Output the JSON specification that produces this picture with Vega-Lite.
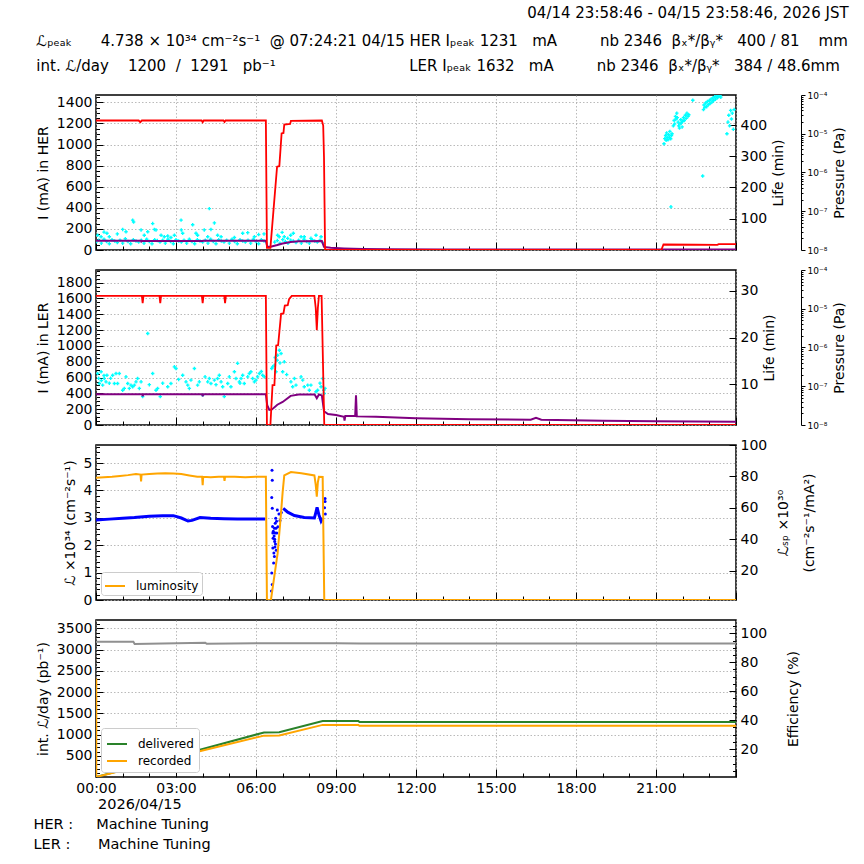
{
"$schema":"https://vega.github.io/schema/vega-lite/v6.json",
"padding":{"left":32,"top":6,"right":8,"bottom":6},
"background":"white",
"title":{"text":"04/14 23:58:46 - 04/15 23:58:46, 2026 JST","anchor":"end","fontSize":15,"fontWeight":"normal","font":"DejaVu Sans","color":"black","offset":12},
"spacing":20,
"bounds":"flush",
"resolve":{"scale":{"color":"independent"},"legend":{"color":"independent"}},
"config":{
 "font":"DejaVu Sans",
 "view":{"stroke":"black","strokeWidth":1.5},
 "axis":{"labelFont":"DejaVu Sans","labelFontSize":14,"titleFont":"DejaVu Sans","titleFontSize":14,"titleFontWeight":"normal","labelColor":"black","titleColor":"black","tickColor":"black","tickWidth":1,"domain":false,"grid":false,"gridColor":"#a8a8a8","gridDash":[1.5,2],"gridWidth":0.8,"labelOverlap":false,"labelBound":false,"labelFlush":false},
 "legend":{"labelFont":"DejaVu Sans","labelFontSize":12,"labelColor":"black"},
 "title":{"font":"DejaVu Sans","fontWeight":"normal","color":"black"}
},
"datasets":{
"her":[{"t":0,"v":1228},{"t":1.6,"v":1228},{"t":1.66,"v":1212},{"t":1.72,"v":1228},{"t":3.96,"v":1228},{"t":4.0,"v":1212},{"t":4.04,"v":1228},{"t":4.78,"v":1228},{"t":4.82,"v":1214},{"t":4.86,"v":1228},{"t":6.37,"v":1228},{"t":6.41,"v":20},{"t":6.54,"v":20},{"t":6.79,"v":790},{"t":6.875,"v":795},{"t":6.96,"v":1105},{"t":7.03,"v":1110},{"t":7.06,"v":1190},{"t":7.28,"v":1195},{"t":7.31,"v":1225},{"t":8.47,"v":1228},{"t":8.52,"v":1180},{"t":8.55,"v":880},{"t":8.59,"v":5},{"t":8.7,"v":0},{"t":21.2,"v":0},{"t":21.28,"v":52},{"t":22.5,"v":50},{"t":23.3,"v":49},{"t":23.35,"v":55},{"t":24,"v":55}],
"herLife":[{"t":0,"v":29},{"t":1.69,"v":29},{"t":1.7,"v":27},{"t":1.72,"v":29},{"t":4.0,"v":28},{"t":4.02,"v":29},{"t":6.37,"v":29},{"t":6.42,"v":10},{"t":6.55,"v":9.5},{"t":6.8,"v":15},{"t":7.0,"v":20},{"t":7.3,"v":25},{"t":7.6,"v":27.5},{"t":8.47,"v":28},{"t":8.55,"v":9},{"t":8.8,"v":6},{"t":9.3,"v":4},{"t":10,"v":2.5},{"t":11,"v":1.5},{"t":13,"v":1},{"t":24,"v":1}],
"herP":[{"t":0.0,"v":1.6e-8},{"t":0.1,"v":1.8e-8},{"t":0.2,"v":1.5e-8},{"t":0.3,"v":1.9e-8},{"t":0.4,"v":1.65e-8},{"t":0.5,"v":1.45e-8},{"t":0.6,"v":1.85e-8},{"t":0.7,"v":1.7e-8},{"t":0.8,"v":1.55e-8},{"t":0.9,"v":1.8e-8},{"t":1.0,"v":1.5e-8},{"t":1.1,"v":1.95e-8},{"t":1.2,"v":1.65e-8},{"t":1.3,"v":1.45e-8},{"t":1.4,"v":1.85e-8},{"t":1.5,"v":1.7e-8},{"t":1.6,"v":1.6e-8},{"t":1.7,"v":1.8e-8},{"t":1.8,"v":1.5e-8},{"t":1.9,"v":1.9e-8},{"t":2.0,"v":1.65e-8},{"t":2.1,"v":1.45e-8},{"t":2.2,"v":1.85e-8},{"t":2.3,"v":1.75e-8},{"t":2.4,"v":1.6e-8},{"t":2.5,"v":1.8e-8},{"t":2.6,"v":1.5e-8},{"t":2.7,"v":1.9e-8},{"t":2.8,"v":1.65e-8},{"t":2.9,"v":1.45e-8},{"t":3.0,"v":1.85e-8},{"t":3.1,"v":1.7e-8},{"t":3.2,"v":1.6e-8},{"t":3.3,"v":1.8e-8},{"t":3.4,"v":1.5e-8},{"t":3.5,"v":1.9e-8},{"t":3.6,"v":1.65e-8},{"t":3.7,"v":1.45e-8},{"t":3.8,"v":1.85e-8},{"t":3.9,"v":1.7e-8},{"t":4.0,"v":1.6e-8},{"t":4.1,"v":1.8e-8},{"t":4.2,"v":1.5e-8},{"t":4.3,"v":1.9e-8},{"t":4.4,"v":1.65e-8},{"t":4.5,"v":1.45e-8},{"t":4.6,"v":1.85e-8},{"t":4.7,"v":1.7e-8},{"t":4.8,"v":1.6e-8},{"t":4.9,"v":1.8e-8},{"t":5.0,"v":1.5e-8},{"t":5.1,"v":1.9e-8},{"t":5.2,"v":1.65e-8},{"t":5.3,"v":1.45e-8},{"t":5.4,"v":1.85e-8},{"t":5.5,"v":1.7e-8},{"t":5.6,"v":1.6e-8},{"t":5.7,"v":1.8e-8},{"t":5.8,"v":1.5e-8},{"t":5.9,"v":1.9e-8},{"t":6.0,"v":1.65e-8},{"t":6.1,"v":1.45e-8},{"t":6.2,"v":1.85e-8},{"t":6.3,"v":1.7e-8},
{"t":0.06,"v":2.4e-8},{"t":0.19,"v":2.2e-8},{"t":0.3,"v":2.9e-8},{"t":0.41,"v":2.7e-8},{"t":0.5,"v":2.2e-8},{"t":0.8,"v":2.6e-8},{"t":1.0,"v":3.4e-8},{"t":1.125,"v":2.95e-8},{"t":1.375,"v":5.9e-8},{"t":1.41,"v":5.3e-8},{"t":1.69,"v":3.3e-8},{"t":1.81,"v":2.4e-8},{"t":1.94,"v":2.95e-8},{"t":2.125,"v":4.8e-8},{"t":2.19,"v":3.4e-8},{"t":2.25,"v":3.3e-8},{"t":2.44,"v":2.4e-8},{"t":2.56,"v":2.2e-8},{"t":2.69,"v":2.3e-8},{"t":2.81,"v":2.1e-8},{"t":2.94,"v":2.4e-8},{"t":3.19,"v":5.9e-8},{"t":3.2,"v":3.3e-8},{"t":3.25,"v":2.7e-8},{"t":3.625,"v":4.5e-8},{"t":3.75,"v":2.7e-8},{"t":3.81,"v":2.4e-8},{"t":4.06,"v":3.3e-8},{"t":4.19,"v":2.2e-8},{"t":4.25,"v":1.17e-7},{"t":4.31,"v":3.4e-8},{"t":4.44,"v":5.0e-8},{"t":4.56,"v":2.4e-8},{"t":4.69,"v":2.2e-8},{"t":5.19,"v":2.1e-8},{"t":5.5,"v":2.7e-8},{"t":5.69,"v":2.8e-8},{"t":5.94,"v":2.2e-8},{"t":6.1,"v":2.5e-8},{"t":6.3,"v":2.6e-8},
{"t":6.7,"v":1.6e-8},{"t":6.8,"v":1.75e-8},{"t":6.9,"v":1.5e-8},{"t":7.0,"v":1.85e-8},{"t":7.1,"v":1.65e-8},{"t":7.2,"v":1.5e-8},{"t":7.3,"v":1.8e-8},{"t":7.4,"v":1.7e-8},{"t":7.5,"v":1.55e-8},{"t":7.6,"v":1.8e-8},{"t":7.7,"v":1.5e-8},{"t":7.8,"v":1.9e-8},{"t":7.9,"v":1.65e-8},{"t":8.0,"v":1.5e-8},{"t":8.1,"v":1.85e-8},{"t":8.2,"v":1.7e-8},{"t":8.3,"v":1.6e-8},{"t":8.4,"v":1.8e-8},{"t":8.5,"v":1.55e-8},
{"t":6.81,"v":2.4e-8},{"t":6.87,"v":2.2e-8},{"t":6.98,"v":2.85e-8},{"t":7.06,"v":2.2e-8},{"t":7.19,"v":2.0e-8},{"t":7.3,"v":2.4e-8},{"t":7.4,"v":2.7e-8},{"t":7.69,"v":2.2e-8},{"t":7.81,"v":2.2e-8},{"t":8.06,"v":2.0e-8},{"t":8.25,"v":2.4e-8},{"t":8.44,"v":2.2e-8},
{"t":21.3,"v":5.5e-6},{"t":21.33,"v":7.5e-6},{"t":21.36,"v":9e-6},{"t":21.38,"v":6.8e-6},{"t":21.4,"v":1.05e-5},{"t":21.42,"v":8e-6},{"t":21.45,"v":7e-6},{"t":21.47,"v":9.5e-6},{"t":21.5,"v":8.2e-6},{"t":21.52,"v":1.15e-5},{"t":21.55,"v":7.4e-6},{"t":21.58,"v":9e-6},{"t":21.6,"v":1.0e-5},{"t":21.56,"v":1.3e-7},
{"t":21.65,"v":1.6e-5},{"t":21.68,"v":2.2e-5},{"t":21.7,"v":1.8e-5},{"t":21.73,"v":2.8e-5},{"t":21.75,"v":2.4e-5},{"t":21.78,"v":3.4e-5},{"t":21.8,"v":2.6e-5},{"t":21.83,"v":2.0e-5},{"t":21.85,"v":1.6e-5},{"t":21.88,"v":1.4e-5},{"t":21.9,"v":1.8e-5},{"t":21.93,"v":2.3e-5},{"t":21.95,"v":1.9e-5},{"t":21.98,"v":1.5e-5},{"t":22.0,"v":2.1e-5},{"t":22.03,"v":2.6e-5},{"t":22.06,"v":2.2e-5},{"t":22.1,"v":3.0e-5},{"t":22.13,"v":2.5e-5},{"t":22.16,"v":3.4e-5},{"t":22.2,"v":2.8e-5},{"t":22.23,"v":3.1e-5},{"t":22.38,"v":7.3e-5},{"t":22.75,"v":8.1e-7},
{"t":22.78,"v":4.2e-5},{"t":22.8,"v":5.5e-5},{"t":22.83,"v":4.8e-5},{"t":22.86,"v":6.2e-5},{"t":22.9,"v":5.0e-5},{"t":22.93,"v":6.8e-5},{"t":22.96,"v":5.6e-5},{"t":23.0,"v":7.2e-5},{"t":23.03,"v":6.0e-5},{"t":23.06,"v":7.8e-5},{"t":23.1,"v":6.6e-5},{"t":23.13,"v":8.4e-5},{"t":23.16,"v":7.2e-5},{"t":23.2,"v":9.0e-5},{"t":23.23,"v":7.8e-5},{"t":23.26,"v":9.5e-5},{"t":23.3,"v":8.5e-5},{"t":23.33,"v":9.9e-5},{"t":23.36,"v":9.2e-5},{"t":23.4,"v":9.7e-5},{"t":23.43,"v":8.8e-5},
{"t":23.66,"v":1.0e-5},{"t":23.7,"v":2.0e-5},{"t":23.73,"v":3.0e-5},{"t":23.76,"v":1.6e-5},{"t":23.8,"v":4.0e-5},{"t":23.83,"v":2.4e-5},{"t":23.86,"v":3.4e-5},{"t":23.9,"v":1.3e-5},{"t":23.93,"v":4.2e-5}],
"ler":[{"t":0,"v":1632},{"t":1.72,"v":1632},{"t":1.75,"v":1540},{"t":1.78,"v":1632},{"t":2.38,"v":1632},{"t":2.41,"v":1540},{"t":2.44,"v":1632},{"t":3.97,"v":1632},{"t":4.0,"v":1540},{"t":4.03,"v":1632},{"t":4.81,"v":1632},{"t":4.84,"v":1540},{"t":4.87,"v":1632},{"t":6.37,"v":1632},{"t":6.41,"v":0},{"t":6.54,"v":0},{"t":6.62,"v":505},{"t":6.69,"v":505},{"t":6.76,"v":1005},{"t":6.83,"v":1010},{"t":6.94,"v":1405},{"t":7.03,"v":1410},{"t":7.08,"v":1510},{"t":7.19,"v":1515},{"t":7.24,"v":1590},{"t":7.34,"v":1632},{"t":8.19,"v":1632},{"t":8.24,"v":1480},{"t":8.28,"v":1200},{"t":8.32,"v":1480},{"t":8.36,"v":1632},{"t":8.46,"v":1632},{"t":8.56,"v":0},{"t":24,"v":0}],
"lerLife":[{"t":0,"v":7.87},{"t":1.74,"v":7.87},{"t":1.75,"v":7.4},{"t":1.77,"v":7.87},{"t":3.99,"v":7.87},{"t":4.0,"v":7.4},{"t":4.02,"v":7.87},{"t":6.37,"v":7.87},{"t":6.42,"v":5.5},{"t":6.5,"v":4.5},{"t":6.6,"v":4.6},{"t":6.8,"v":5.6},{"t":7.0,"v":6.2},{"t":7.3,"v":7.5},{"t":7.6,"v":7.8},{"t":8.2,"v":7.8},{"t":8.28,"v":7.0},{"t":8.36,"v":7.8},{"t":8.47,"v":7.6},{"t":8.55,"v":4.2},{"t":8.7,"v":3.6},{"t":9.0,"v":3.4},{"t":9.3,"v":3.0},{"t":9.32,"v":2.2},{"t":9.35,"v":3.2},{"t":9.72,"v":3.2},{"t":9.75,"v":7.6},{"t":9.78,"v":3.1},{"t":10.5,"v":3.0},{"t":12,"v":2.7},{"t":14,"v":2.5},{"t":16.3,"v":2.4},{"t":16.5,"v":2.8},{"t":16.7,"v":2.4},{"t":19,"v":2.15},{"t":21,"v":2.05},{"t":24,"v":1.95}],
"lerP":[{"t":0.06,"v":2.13e-7},{"t":0.1,"v":1.6e-7},{"t":0.125,"v":1.18e-7},{"t":0.19,"v":2.36e-7},{"t":0.2,"v":1.4e-7},{"t":0.25,"v":1.07e-7},{"t":0.3,"v":1.9e-7},{"t":0.31,"v":1.58e-7},{"t":0.375,"v":1.3e-7},{"t":0.41,"v":1.93e-7},{"t":0.5,"v":1.2e-7},{"t":0.55,"v":1.6e-7},{"t":0.625,"v":1.93e-7},{"t":0.69,"v":1.18e-7},{"t":0.75,"v":2.13e-7},{"t":0.81,"v":1.18e-7},{"t":0.875,"v":2.13e-7},{"t":1.0,"v":7.9e-8},{"t":1.06,"v":8.8e-8},{"t":1.125,"v":1.75e-7},{"t":1.19,"v":1.18e-7},{"t":1.25,"v":8.8e-8},{"t":1.31,"v":1.07e-7},{"t":1.375,"v":9.7e-8},{"t":1.44,"v":1.07e-7},{"t":1.5,"v":1.3e-7},{"t":1.56,"v":1.58e-7},{"t":1.625,"v":8.8e-8},{"t":1.69,"v":1.3e-7},{"t":1.75,"v":5.4e-8},{"t":1.94,"v":2.3e-6},{"t":2.0,"v":1.1e-7},{"t":2.125,"v":2.13e-7},{"t":2.25,"v":7.9e-8},{"t":2.31,"v":8.8e-8},{"t":2.41,"v":5.4e-8},{"t":2.5,"v":1.2e-7},{"t":2.69,"v":9.7e-8},{"t":2.81,"v":1.18e-7},{"t":2.94,"v":3.17e-7},{"t":3.0,"v":2.87e-7},{"t":3.1,"v":1.5e-7},{"t":3.25,"v":1.93e-7},{"t":3.375,"v":1.3e-7},{"t":3.44,"v":1.07e-7},{"t":3.5,"v":8.8e-8},{"t":3.56,"v":1.44e-7},{"t":3.69,"v":2.87e-7},{"t":3.81,"v":1.07e-7},{"t":3.875,"v":1.3e-7},{"t":4.0,"v":5.9e-8},{"t":4.09,"v":1.75e-7},{"t":4.19,"v":1.3e-7},{"t":4.25,"v":1.58e-7},{"t":4.31,"v":1.18e-7},{"t":4.44,"v":1.44e-7},{"t":4.5,"v":1.1e-7},{"t":4.56,"v":1.58e-7},{"t":4.625,"v":1.93e-7},{"t":4.69,"v":1.3e-7},{"t":4.75,"v":9.7e-8},{"t":4.81,"v":5.4e-8},{"t":4.94,"v":1.18e-7},{"t":5.0,"v":1.75e-7},{"t":5.06,"v":9.7e-8},{"t":5.19,"v":2.36e-7},{"t":5.25,"v":1.58e-7},{"t":5.31,"v":3.9e-7},{"t":5.375,"v":1.3e-7},{"t":5.4,"v":1.2e-7},{"t":5.44,"v":1.58e-7},{"t":5.5,"v":1.93e-7},{"t":5.56,"v":1.18e-7},{"t":5.69,"v":1.75e-7},{"t":5.75,"v":2.13e-7},{"t":5.81,"v":2.36e-7},{"t":5.875,"v":1.58e-7},{"t":5.94,"v":1.3e-7},{"t":6.0,"v":1.44e-7},{"t":6.06,"v":1.75e-7},{"t":6.125,"v":2.13e-7},{"t":6.2,"v":2.4e-7},{"t":6.25,"v":1.93e-7},{"t":6.31,"v":1.75e-7},
{"t":6.59,"v":2.87e-7},{"t":6.625,"v":3.17e-7},{"t":6.69,"v":3.5e-7},{"t":6.72,"v":5.5e-7},{"t":6.75,"v":2.36e-7},{"t":6.79,"v":4.7e-7},{"t":6.81,"v":6.3e-7},{"t":6.875,"v":8.5e-7},{"t":6.9,"v":4e-7},{"t":6.94,"v":7.0e-7},{"t":7.0,"v":2.36e-7},{"t":7.06,"v":4.27e-7},{"t":7.15,"v":2e-7},{"t":7.31,"v":1.3e-7},{"t":7.375,"v":9.7e-8},{"t":7.44,"v":1.58e-7},{"t":7.5,"v":1.07e-7},{"t":7.69,"v":1.75e-7},{"t":7.75,"v":1.44e-7},{"t":7.81,"v":9.7e-8},{"t":7.94,"v":1.07e-7},{"t":8.0,"v":7.9e-8},{"t":8.06,"v":1.07e-7},{"t":8.25,"v":7.2e-8},{"t":8.31,"v":7.9e-8},{"t":8.4,"v":1.2e-7},{"t":8.44,"v":9.7e-8},{"t":8.5,"v":1.58e-7},{"t":8.54,"v":7.9e-8},{"t":8.56,"v":6.5e-8},{"t":8.59,"v":8.8e-8}],
"lum":[{"t":0,"v":4.46,"s":"luminosity"},{"t":0.3,"v":4.48,"s":"luminosity"},{"t":0.6,"v":4.5,"s":"luminosity"},{"t":0.9,"v":4.53,"s":"luminosity"},{"t":1.2,"v":4.56,"s":"luminosity"},{"t":1.5,"v":4.6,"s":"luminosity"},{"t":1.67,"v":4.58,"s":"luminosity"},{"t":1.69,"v":4.33,"s":"luminosity"},{"t":1.71,"v":4.58,"s":"luminosity"},{"t":2.0,"v":4.6,"s":"luminosity"},{"t":2.3,"v":4.62,"s":"luminosity"},{"t":2.6,"v":4.63,"s":"luminosity"},{"t":2.9,"v":4.62,"s":"luminosity"},{"t":3.2,"v":4.6,"s":"luminosity"},{"t":3.5,"v":4.55,"s":"luminosity"},{"t":3.8,"v":4.5,"s":"luminosity"},{"t":3.98,"v":4.5,"s":"luminosity"},{"t":4.0,"v":4.19,"s":"luminosity"},{"t":4.02,"v":4.5,"s":"luminosity"},{"t":4.3,"v":4.48,"s":"luminosity"},{"t":4.6,"v":4.5,"s":"luminosity"},{"t":4.8,"v":4.5,"s":"luminosity"},{"t":4.82,"v":4.35,"s":"luminosity"},{"t":4.84,"v":4.5,"s":"luminosity"},{"t":5.2,"v":4.5,"s":"luminosity"},{"t":5.6,"v":4.48,"s":"luminosity"},{"t":6.0,"v":4.5,"s":"luminosity"},{"t":6.37,"v":4.5,"s":"luminosity"},{"t":6.41,"v":0,"s":"luminosity"},{"t":6.56,"v":0,"s":"luminosity"},{"t":6.81,"v":1.7,"s":"luminosity"},{"t":6.94,"v":3.2,"s":"luminosity"},{"t":7.0,"v":3.95,"s":"luminosity"},{"t":7.06,"v":4.55,"s":"luminosity"},{"t":7.31,"v":4.67,"s":"luminosity"},{"t":7.7,"v":4.63,"s":"luminosity"},{"t":8.19,"v":4.55,"s":"luminosity"},{"t":8.24,"v":4.2,"s":"luminosity"},{"t":8.28,"v":3.77,"s":"luminosity"},{"t":8.32,"v":4.3,"s":"luminosity"},{"t":8.36,"v":4.5,"s":"luminosity"},{"t":8.5,"v":4.49,"s":"luminosity"},{"t":8.56,"v":0,"s":"luminosity"},{"t":24,"v":0,"s":"luminosity"}],
"lsp":[{"t":0,"v":52.3,"g":1},{"t":0.5,"v":52.8,"g":1},{"t":1.0,"v":53.4,"g":1},{"t":1.44,"v":53.8,"g":1},{"t":2.0,"v":54.6,"g":1},{"t":2.5,"v":55,"g":1},{"t":2.9,"v":55,"g":1},{"t":3.2,"v":53.5,"g":1},{"t":3.45,"v":51.6,"g":1},{"t":3.6,"v":52,"g":1},{"t":3.9,"v":53.8,"g":1},{"t":4.3,"v":53.3,"g":1},{"t":4.8,"v":53,"g":1},{"t":5.3,"v":52.8,"g":1},{"t":5.8,"v":52.9,"g":1},{"t":6.35,"v":52.8,"g":1},{"t":7.02,"v":59.7,"g":2},{"t":7.19,"v":57.2,"g":2},{"t":7.44,"v":55.1,"g":2},{"t":7.81,"v":53.8,"g":2},{"t":8.19,"v":53.5,"g":2},{"t":8.26,"v":58,"g":2},{"t":8.29,"v":60.3,"g":2},{"t":8.36,"v":55.5,"g":2},{"t":8.44,"v":51.6,"g":2},{"t":8.5,"v":53.5,"g":2}],
"lspPts":[{"t":6.6,"v":83.9},{"t":6.61,"v":77.6},{"t":6.59,"v":66.5},{"t":6.61,"v":59.7},{"t":6.62,"v":48.1},{"t":6.63,"v":43.9},{"t":6.64,"v":40.7},{"t":6.63,"v":34.4},{"t":6.67,"v":31.2},{"t":6.66,"v":24.9},{"t":6.59,"v":18.5},{"t":6.61,"v":11.1},{"t":6.58,"v":7},{"t":6.69,"v":47},{"t":6.7,"v":38.6},{"t":6.72,"v":50.2},{"t":6.74,"v":53.4},{"t":6.75,"v":47},{"t":6.72,"v":44},{"t":6.77,"v":51.5},{"t":6.8,"v":58.6},{"t":6.69,"v":29},{"t":6.71,"v":35},{"t":6.65,"v":45},{"t":6.68,"v":42},{"t":6.7,"v":40},{"t":6.73,"v":37},{"t":6.76,"v":33},{"t":6.78,"v":44},{"t":6.82,"v":48},{"t":6.86,"v":56},{"t":6.9,"v":52},{"t":6.95,"v":57},{"t":8.59,"v":64},{"t":8.59,"v":66},{"t":8.6,"v":56},{"t":8.57,"v":60}],
"intL":[{"t":0,"v":0,"s":"delivered"},{"t":4.0,"v":660,"s":"delivered"},{"t":6.3,"v":1050,"s":"delivered"},{"t":6.87,"v":1055,"s":"delivered"},{"t":8.5,"v":1320,"s":"delivered"},{"t":9.84,"v":1320,"s":"delivered"},{"t":9.88,"v":1295,"s":"delivered"},{"t":24,"v":1295,"s":"delivered"},{"t":0,"v":0,"s":"recorded"},{"t":4.0,"v":625,"s":"recorded"},{"t":6.3,"v":975,"s":"recorded"},{"t":6.87,"v":980,"s":"recorded"},{"t":8.5,"v":1228,"s":"recorded"},{"t":9.84,"v":1228,"s":"recorded"},{"t":9.88,"v":1205,"s":"recorded"},{"t":24,"v":1205,"s":"recorded"}],
"eff":[{"t":0,"v":94.2},{"t":1.4,"v":94.2},{"t":1.45,"v":92.6},{"t":2.5,"v":92.9},{"t":4.1,"v":93.5},{"t":4.15,"v":92.8},{"t":6,"v":93.1},{"t":9,"v":93.2},{"t":9.9,"v":93.0},{"t":24,"v":93.0}],
"effRec":[{"t":0.01,"v":0.7},{"t":0.01,"v":68.7}]
},
"vconcat":[
{
 "width":640,"height":155,
 "title":{"text":["ℒₚₑₐₖ\u00a0\u00a0\u00a0\u00a0\u00a0\u00a04.738\u00a0× 10³⁴ cm⁻²s⁻¹\u00a0\u00a0@ 07:24:21 04/15\u00a0HER Iₚₑₐₖ\u00a01231\u00a0\u00a0\u00a0mA\u00a0\u00a0\u00a0\u00a0\u00a0\u00a0\u00a0\u00a0\u00a0nb\u00a02346\u00a0\u00a0βₓ*/βᵧ*\u00a0\u00a0\u00a0400 / 81\u00a0\u00a0\u00a0\u00a0mm","int. ℒ/day\u00a0\u00a0\u00a0\u00a01200\u00a0\u00a0/\u00a0\u00a01291\u00a0\u00a0\u00a0pb⁻¹\u00a0\u00a0\u00a0\u00a0\u00a0\u00a0\u00a0\u00a0\u00a0\u00a0\u00a0\u00a0\u00a0\u00a0\u00a0\u00a0\u00a0\u00a0\u00a0\u00a0\u00a0\u00a0\u00a0\u00a0\u00a0\u00a0\u00a0\u00a0LER Iₚₑₐₖ\u00a01632\u00a0\u00a0\u00a0mA\u00a0\u00a0\u00a0\u00a0\u00a0\u00a0\u00a0\u00a0\u00a0nb\u00a02346\u00a0\u00a0βₓ*/βᵧ*\u00a0\u00a0\u00a0384 / 48.6mm"],"anchor":"start","frame":"bounds","fontSize":15,"fontWeight":"normal","lineHeight":25,"offset":16,"color":"black"},
 "encoding":{"x":{"field":"t","type":"quantitative","scale":{"domain":[0,24],"nice":false,"zero":false},"axis":{"values":[0,1,2,3,4,5,6,7,8,9,10,11,12,13,14,15,16,17,18,19,20,21,22,23,24],"labels":false,"title":null,"grid":true,"gridOpacity":{"condition":{"test":"datum.value % 3 === 0","value":1},"value":0},"tickSize":{"condition":{"test":"datum.value % 3 === 0","value":-8},"value":-4}}}},
 "layer":[
  {"data":{"name":"herP"},"mark":{"type":"point","shape":"cross","filled":true,"size":12,"color":"#00ffff","opacity":1,"clip":true},
   "encoding":{"y":{"field":"v","type":"quantitative","scale":{"type":"log","domain":[1e-8,1e-4],"nice":false},"axis":{"orient":"right","offset":65,"values":[1e-8,2e-8,3e-8,4e-8,5e-8,6e-8,7e-8,8e-8,9e-8,1e-7,2e-7,3e-7,4e-7,5e-7,6e-7,7e-7,8e-7,9e-7,1e-6,2e-6,3e-6,4e-6,5e-6,6e-6,7e-6,8e-6,9e-6,1e-5,2e-5,3e-5,4e-5,5e-5,6e-5,7e-5,8e-5,9e-5,1e-4],"domain":true,"domainColor":"black","domainWidth":1,"labelExpr":"abs(log(datum.value)/LN10 - round(log(datum.value)/LN10)) < 0.01 ? '10⁻' + substring('⁰¹²³⁴⁵⁶⁷⁸⁹', -round(log(datum.value)/LN10), -round(log(datum.value)/LN10) + 1) : ''","labelFontSize":9,"labelPadding":2,"tickSize":{"condition":{"test":"abs(log(datum.value)/LN10 - round(log(datum.value)/LN10)) < 0.01","value":4},"value":2},"title":"Pressure (Pa)","titleAngle":270,"titleBaseline":"top","titlePadding":6}}}},
  {"data":{"name":"herLife"},"mark":{"type":"line","color":"purple","strokeWidth":2,"clip":true},
   "encoding":{"y":{"field":"v","type":"quantitative","scale":{"domain":[-1,497],"nice":false,"zero":false},"axis":{"orient":"right","values":[100,200,300,400],"labelExpr":"'' + datum.value","tickSize":-7,"labelPadding":11,"title":"Life (min)","titleAngle":270,"titleBaseline":"top","titlePadding":5}}}},
  {"data":{"name":"her"},"mark":{"type":"line","color":"red","strokeWidth":1.8,"clip":true},
   "encoding":{"y":{"field":"v","type":"quantitative","scale":{"domain":[0,1470],"nice":false,"zero":false},"axis":{"orient":"left","values":[0,50,100,150,200,250,300,350,400,450,500,550,600,650,700,750,800,850,900,950,1000,1050,1100,1150,1200,1250,1300,1350,1400,1450],"labelExpr":"datum.value % 200 === 0 ? '' + datum.value : ''","grid":true,"gridOpacity":{"condition":{"test":"datum.value % 200 === 0","value":1},"value":0},"tickSize":{"condition":{"test":"datum.value % 200 === 0","value":-7},"value":-3.5},"labelPadding":11,"title":"I (mA) in HER","titlePadding":6}}}}
 ],
 "resolve":{"scale":{"y":"independent"}}
},
{
 "width":640,"height":155,
 "encoding":{"x":{"field":"t","type":"quantitative","scale":{"domain":[0,24],"nice":false,"zero":false},"axis":{"values":[0,1,2,3,4,5,6,7,8,9,10,11,12,13,14,15,16,17,18,19,20,21,22,23,24],"labels":false,"title":null,"grid":true,"gridOpacity":{"condition":{"test":"datum.value % 3 === 0","value":1},"value":0},"tickSize":{"condition":{"test":"datum.value % 3 === 0","value":-8},"value":-4}}}},
 "layer":[
  {"data":{"name":"lerP"},"mark":{"type":"point","shape":"cross","filled":true,"size":12,"color":"#00ffff","opacity":1,"clip":true},
   "encoding":{"y":{"field":"v","type":"quantitative","scale":{"type":"log","domain":[1e-8,1e-4],"nice":false},"axis":{"orient":"right","offset":65,"values":[1e-8,2e-8,3e-8,4e-8,5e-8,6e-8,7e-8,8e-8,9e-8,1e-7,2e-7,3e-7,4e-7,5e-7,6e-7,7e-7,8e-7,9e-7,1e-6,2e-6,3e-6,4e-6,5e-6,6e-6,7e-6,8e-6,9e-6,1e-5,2e-5,3e-5,4e-5,5e-5,6e-5,7e-5,8e-5,9e-5,1e-4],"domain":true,"domainColor":"black","domainWidth":1,"labelExpr":"abs(log(datum.value)/LN10 - round(log(datum.value)/LN10)) < 0.01 ? '10⁻' + substring('⁰¹²³⁴⁵⁶⁷⁸⁹', -round(log(datum.value)/LN10), -round(log(datum.value)/LN10) + 1) : ''","labelFontSize":9,"labelPadding":2,"tickSize":{"condition":{"test":"abs(log(datum.value)/LN10 - round(log(datum.value)/LN10)) < 0.01","value":4},"value":2},"title":"Pressure (Pa)","titleAngle":270,"titleBaseline":"top","titlePadding":6}}}},
  {"data":{"name":"lerLife"},"mark":{"type":"line","color":"purple","strokeWidth":2,"clip":true},
   "encoding":{"y":{"field":"v","type":"quantitative","scale":{"domain":[1.25,34.5],"nice":false,"zero":false},"axis":{"orient":"right","values":[10,20,30],"labelExpr":"'' + datum.value","tickSize":-7,"labelPadding":11,"title":"Life (min)","titleAngle":270,"titleBaseline":"top","titlePadding":5}}}},
  {"data":{"name":"ler"},"mark":{"type":"line","color":"red","strokeWidth":1.8,"clip":true},
   "encoding":{"y":{"field":"v","type":"quantitative","scale":{"domain":[0,1960],"nice":false,"zero":false},"axis":{"orient":"left","values":[0,50,100,150,200,250,300,350,400,450,500,550,600,650,700,750,800,850,900,950,1000,1050,1100,1150,1200,1250,1300,1350,1400,1450,1500,1550,1600,1650,1700,1750,1800,1850,1900,1950],"labelExpr":"datum.value % 200 === 0 ? '' + datum.value : ''","grid":true,"gridOpacity":{"condition":{"test":"datum.value % 200 === 0","value":1},"value":0},"tickSize":{"condition":{"test":"datum.value % 200 === 0","value":-7},"value":-3.5},"labelPadding":11,"title":"I (mA) in LER","titlePadding":6}}}}
 ],
 "resolve":{"scale":{"y":"independent"}}
},
{
 "width":640,"height":155,
 "encoding":{"x":{"field":"t","type":"quantitative","scale":{"domain":[0,24],"nice":false,"zero":false},"axis":{"values":[0,1,2,3,4,5,6,7,8,9,10,11,12,13,14,15,16,17,18,19,20,21,22,23,24],"labels":false,"title":null,"grid":true,"gridOpacity":{"condition":{"test":"datum.value % 3 === 0","value":1},"value":0},"tickSize":{"condition":{"test":"datum.value % 3 === 0","value":-8},"value":-4}}}},
 "layer":[
  {"data":{"name":"lsp"},"mark":{"type":"line","color":"blue","strokeWidth":3,"clip":true},
   "encoding":{"detail":{"field":"g","type":"nominal"},"y":{"field":"v","type":"quantitative","scale":{"domain":[1.3,100],"nice":false,"zero":false},"axis":{"orient":"right","values":[20,40,60,80,100],"labelExpr":"'' + datum.value","tickSize":-7,"labelPadding":11,"title":["ℒₛₚ ×10³⁰","(cm⁻²s⁻¹/mA²)"],"titleAngle":270,"titleBaseline":"top","titleX":40,"titleLineHeight":26}}}},
  {"data":{"name":"lspPts"},"mark":{"type":"point","shape":"circle","filled":true,"size":9,"color":"blue","opacity":1,"clip":true},
   "encoding":{"y":{"field":"v","type":"quantitative","scale":{"domain":[1.3,100],"nice":false,"zero":false},"axis":null}}},
  {"data":{"name":"lum"},"mark":{"type":"line","strokeWidth":2,"clip":true},
   "encoding":{"color":{"field":"s","type":"nominal","scale":{"domain":["luminosity"],"range":["#ffa500"]},"legend":{"orient":"bottom-left","title":null,"offset":5,"padding":3,"fillColor":"white","strokeColor":"#cccccc","cornerRadius":3,"symbolType":"stroke","symbolStrokeWidth":2,"symbolSize":400,"labelFontSize":12,"labelOffset":10}},
   "y":{"field":"v","type":"quantitative","scale":{"domain":[0,5.66],"nice":false,"zero":false},"axis":{"orient":"left","values":[0,0.2,0.4,0.6,0.8,1,1.2,1.4,1.6,1.8,2,2.2,2.4,2.6,2.8,3,3.2,3.4,3.6,3.8,4,4.2,4.4,4.6,4.8,5,5.2,5.4,5.6],"labelExpr":"abs(datum.value - round(datum.value)) < 0.001 ? '' + round(datum.value) : ''","grid":true,"gridOpacity":{"condition":{"test":"abs(datum.value - round(datum.value)) < 0.001","value":1},"value":0},"tickSize":{"condition":{"test":"abs(datum.value - round(datum.value)) < 0.001","value":-7},"value":-3.5},"labelPadding":11,"title":"ℒ ×10³⁴ (cm⁻²s⁻¹)","titlePadding":6}}}}
 ],
 "resolve":{"scale":{"y":"independent"}}
},
{
 "width":640,"height":157,
 "encoding":{"x":{"field":"t","type":"quantitative","scale":{"domain":[0,24],"nice":false,"zero":false},"axis":{"values":[0,1,2,3,4,5,6,7,8,9,10,11,12,13,14,15,16,17,18,19,20,21,22,23,24],"labelExpr":"datum.value % 3 === 0 && datum.value < 24 ? (datum.value < 10 ? '0' : '') + datum.value + ':00' : ''","labelPadding":12,"grid":true,"gridOpacity":{"condition":{"test":"datum.value % 3 === 0","value":1},"value":0},"tickSize":{"condition":{"test":"datum.value % 3 === 0","value":-8},"value":-4},"title":["\u200b\u00a0\u00a0\u00a0\u00a0\u00a0\u00a0\u00a0\u00a0\u00a0\u00a0\u00a0\u00a0\u00a0\u00a02026/04/15","HER :\u00a0\u00a0\u00a0\u00a0\u00a0Machine Tuning","LER :\u00a0\u00a0\u00a0\u00a0\u00a0\u00a0Machine Tuning"],"titleAnchor":"start","titleAlign":"left","titleX":-63,"titleY":20,"titleBaseline":"top","titleFontSize":14.5,"titleLineHeight":20}}},
 "layer":[
  {"data":{"name":"effRec"},"mark":{"type":"line","color":"#ffa500","strokeWidth":2,"clip":true},
   "encoding":{"y":{"field":"v","type":"quantitative","scale":{"domain":[0.7,109.2],"nice":false,"zero":false},"axis":null}}},
  {"data":{"name":"eff"},"mark":{"type":"line","color":"#909090","strokeWidth":2,"clip":true},
   "encoding":{"y":{"field":"v","type":"quantitative","scale":{"domain":[0.7,109.2],"nice":false,"zero":false},"axis":{"orient":"right","values":[5,10,15,20,25,30,35,40,45,50,55,60,65,70,75,80,85,90,95,100,105],"labelExpr":"datum.value % 20 === 0 ? '' + datum.value : ''","tickSize":{"condition":{"test":"datum.value % 20 === 0","value":-7},"value":-3.5},"labelPadding":11,"title":"Efficiency (%)","titleAngle":270,"titleBaseline":"top","titlePadding":20}}}},
  {"data":{"name":"intL"},"mark":{"type":"line","strokeWidth":2,"clip":true},
   "encoding":{"color":{"field":"s","type":"nominal","scale":{"domain":["delivered","recorded"],"range":["#2a822a","#ffa500"]},"legend":{"orient":"bottom-left","title":null,"offset":5,"padding":5,"fillColor":"white","strokeColor":"#cccccc","cornerRadius":3,"symbolType":"stroke","symbolStrokeWidth":2,"symbolSize":400,"labelFontSize":12,"labelOffset":10,"rowPadding":0}},
   "y":{"field":"v","type":"quantitative","scale":{"domain":[0,3700],"nice":false,"zero":false},"axis":{"orient":"left","values":[100,200,300,400,500,600,700,800,900,1000,1100,1200,1300,1400,1500,1600,1700,1800,1900,2000,2100,2200,2300,2400,2500,2600,2700,2800,2900,3000,3100,3200,3300,3400,3500,3600],"labelExpr":"datum.value % 500 === 0 ? '' + datum.value : ''","grid":true,"gridOpacity":{"condition":{"test":"datum.value % 500 === 0","value":1},"value":0},"tickSize":{"condition":{"test":"datum.value % 500 === 0","value":-7},"value":-3.5},"labelPadding":11,"title":"int. ℒ/day (pb⁻¹)","titlePadding":6}}}}
 ],
 "resolve":{"scale":{"y":"independent"}}
}
]
}
